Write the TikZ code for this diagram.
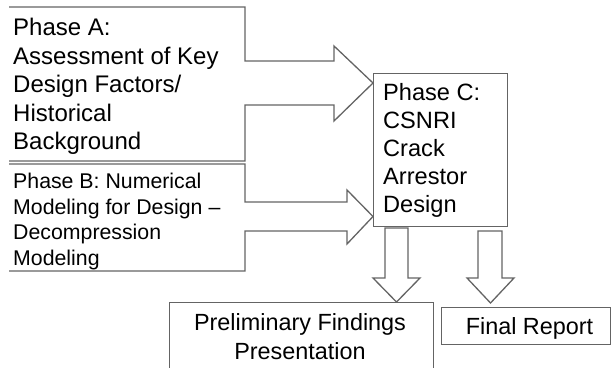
\documentclass[tikz,border=0pt]{standalone}
\usepackage{fontspec}
\setmainfont{Liberation Sans}
\definecolor{outline}{RGB}{100,100,100}
\tikzset{
  outl/.style={draw=outline, line width=1.3pt, line join=miter},
  boxnode/.style={outl, anchor=north west, inner sep=0pt},
  phasetext/.style={anchor=north west, inner sep=0pt, align=left, font=\fontsize{24}{28.5}\selectfont},
  outtext/.style={anchor=north, inner sep=0pt, align=center, font=\fontsize{23.4}{29}\selectfont}
}
\begin{document}
\begin{tikzpicture}[x=1pt,y=-1pt]
		\useasboundingbox (0,0) rectangle (612,367);
		\clip (0,0) rectangle (612,367);
		\def\phaseAoutline{(9,7) -- (245,7) -- (245,61) -- (334,61) -- (334,46) -- (373,83) -- (334,121) -- (334,105) -- (245,105) -- (245,161) -- (9,161)}
		\def\phaseBoutline{(9,164) -- (245,164) -- (245,202) -- (347,202) -- (347,190) -- (373,216.5) -- (347,244) -- (347,231) -- (245,231) -- (245,271) -- (9,271)}
		\def\downleft{(385,228) -- (408,228) -- (408,278) -- (420,278) -- (396.5,302) -- (373,278) -- (385,278) -- cycle}
		\def\downright{(478,231) -- (502,231) -- (502,278) -- (514,278) -- (490.5,303) -- (467,278) -- (478,278) -- cycle}
		\draw[outl] \phaseAoutline;
		\draw[outl] \phaseBoutline;
		\node[boxnode, minimum width=134pt, minimum height=153pt] (phasec) at (373,73) {};
		\draw[outl] \downleft;
		\draw[outl] \downright;
		\node[boxnode, minimum width=264pt, minimum height=100pt] (prelim) at (168.5,301.5) {};
		\node[boxnode, minimum width=169pt, minimum height=37pt] (final) at (441,307) {};
		\node[phasetext] (phaseatext) at (13,18) {Phase A:\\Assessment of Key\\Design Factors/\\Historical\\Background};
		\node[phasetext, font=\fontsize{21.3}{25.5}\selectfont] (phasebtext) at (13,173) {Phase B: Numerical\\Modeling for Design --\\Decompression\\Modeling};
		\node[phasetext, font=\fontsize{23.6}{28}\selectfont] (phasectext) at (383,83) {Phase C:\\CSNRI\\Crack\\Arrestor\\Design};
		\node[outtext] (prelimtext) at (300,313) {Preliminary Findings\\Presentation};
		\node[outtext] (finaltext) at (529.5,317) {Final Report};
	\end{tikzpicture}
\end{document}
